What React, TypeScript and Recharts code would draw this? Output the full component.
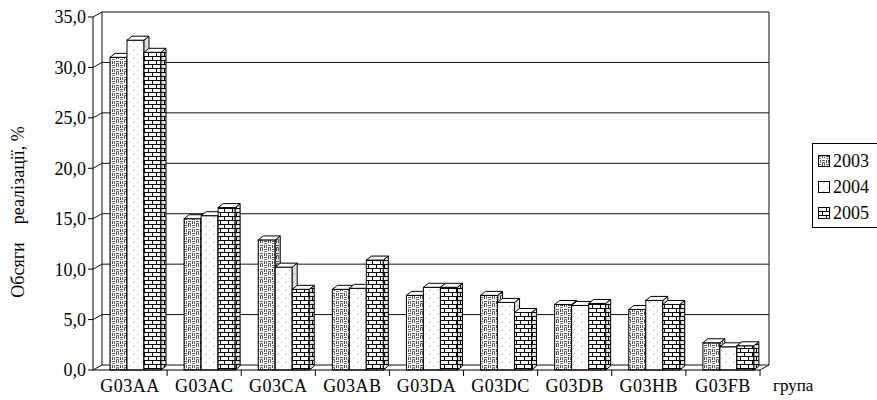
import React from "react";
import { BarChart, Bar, XAxis, YAxis, CartesianGrid } from "recharts";

const groups = ["G03AA", "G03AC", "G03CA", "G03AB", "G03DA", "G03DC", "G03DB", "G03HB", "G03FB"];
const v2003 = [31.0, 15.0, 12.9, 8.0, 7.4, 7.4, 6.5, 6.0, 2.7];
const v2004 = [32.7, 15.3, 10.2, 8.1, 8.2, 6.7, 6.4, 6.9, 2.3];
const v2005 = [31.5, 16.1, 8.0, 10.9, 8.2, 5.7, 6.6, 6.5, 2.4];
const years = ["2003", "2004", "2005"];
const yTicks = [0, 5, 10, 15, 20, 25, 30, 35];

const data = groups.map((g, i) => ({ group: g, y2003: v2003[i], y2004: v2004[i], y2005: v2005[i] }));

const W = 877;
const H = 400;
const LEFT = 93;
const TOP = 17;
const BOTTOM = 370;
const RIGHT = 760;
const BAND = (RIGHT - LEFT) / groups.length;
const FONT = "Liberation Serif";

// 3d depth of bars and of the walls
const DX = 5;
const DY = 4;
const SHIFT = 5;
const WDX = 9;
const WDY = 5;

function Patterns({ prefix }: { prefix: string }) {
  return (
    <defs>
      <pattern id={`${prefix}-2003`} width="8" height="8" patternUnits="userSpaceOnUse">
        <rect width="8" height="8" fill="#fff" />
        <rect x="0" y="1" width="3" height="1" fill="#555" />
        <rect x="0" y="3" width="3" height="1" fill="#777" />
        <rect x="4" y="0" width="1" height="3" fill="#444" />
        <rect x="6" y="0" width="1" height="3" fill="#666" />
        <rect x="0" y="5" width="1" height="3" fill="#444" />
        <rect x="2" y="5" width="1" height="3" fill="#666" />
        <rect x="4" y="5" width="3" height="1" fill="#555" />
        <rect x="4" y="7" width="3" height="1" fill="#777" />
      </pattern>
      <pattern id={`${prefix}-2004`} width="8" height="8" patternUnits="userSpaceOnUse">
        <rect width="8" height="8" fill="#fff" />
        <rect x="1" y="6" width="1" height="1" fill="#aaa" />
        <rect x="5" y="2" width="1" height="1" fill="#bbb" />
        <rect x="6" y="1" width="1" height="1" fill="#ccc" />
      </pattern>
      <pattern id={`${prefix}-2005`} width="8" height="8" patternUnits="userSpaceOnUse">
        <rect width="8" height="8" fill="#fff" />
        <rect x="0" y="0" width="8" height="1" fill="#000" />
        <rect x="0" y="4" width="8" height="1" fill="#000" />
        <rect x="0" y="0" width="1" height="4" fill="#000" />
        <rect x="4" y="4" width="1" height="4" fill="#000" />
      </pattern>
    </defs>
  );
}

function Bar3D(props: any) {
  const { x, y, width, height, fill } = props;
  if (height == null || height <= 0) return null;
  const x0 = x + SHIFT;
  const x1 = x0 + width;
  const yb = y + height;
  const side = `${x1},${y} ${x1 + DX},${y - DY} ${x1 + DX},${yb - DY} ${x1},${yb}`;
  return (
    <g>
      <rect x={x0} y={y} width={width} height={height} fill={fill} stroke="#000" strokeWidth={1} />
      <polygon points={side} fill={fill} stroke="#000" strokeWidth={1} />
      <polygon points={side} fill="rgba(0,0,0,0.12)" stroke="none" />
      <polygon
        points={`${x0},${y} ${x0 + DX},${y - DY} ${x1 + DX},${y - DY} ${x1},${y}`}
        fill="#fff"
        stroke="#000"
        strokeWidth={1}
      />
    </g>
  );
}

function GridLine(props: any) {
  const { x1, x2, y1 } = props;
  const yb = y1 - WDY;
  const isTop = Math.abs(y1 - TOP) < 1;
  const isBottom = Math.abs(y1 - BOTTOM) < 1;
  return (
    <g stroke="#111" strokeWidth={1} fill="none">
      <path d={`M${x1},${y1} L${x1 + WDX},${yb} L${x2 + WDX},${yb}`} />
      {isTop && (
        <>
          <line x1={x1 + WDX} y1={yb} x2={x1 + WDX} y2={BOTTOM - WDY} />
          <line x1={x2 + WDX} y1={yb} x2={x2 + WDX} y2={BOTTOM - WDY} />
        </>
      )}
      {isBottom && <line x1={x2} y1={y1} x2={x2 + WDX} y2={yb} />}
    </g>
  );
}

function XTick(props: any) {
  const { x, y, payload, index } = props;
  return (
    <g>
      <line x1={x + BAND / 2} y1={y} x2={x + BAND / 2} y2={y + 6} stroke="#000" />
      <text x={x} y={y + 22} textAnchor="middle" fontFamily={FONT} fontSize={18} letterSpacing={0.5} fill="#000">
        {payload.value}
      </text>
      {index === groups.length - 1 && (
        <text x={RIGHT + 13} y={y + 21} fontFamily={FONT} fontSize={17} fill="#000">
          група
        </text>
      )}
    </g>
  );
}

function YTitle() {
  return (
    <text
      x={0}
      y={0}
      transform="translate(24,212) rotate(-90)"
      textAnchor="middle"
      fontFamily={FONT}
      fontSize={18}
      fill="#000"
      style={{ whiteSpace: "pre", fontFamily: FONT }}
    >
      {"Обсяги    реалізації, %"}
    </text>
  );
}

function LegendBox() {
  return (
    <div
      style={{
        position: "absolute",
        left: 812,
        top: 143,
        width: 70,
        height: 85,
        border: "1px solid #000",
        boxSizing: "border-box",
        background: "#fff",
        fontFamily: FONT,
        fontSize: 18,
        paddingTop: 4,
      }}
    >
      {years.map((yr) => (
        <div key={yr} style={{ display: "flex", alignItems: "center", height: 26, paddingLeft: 5 }}>
          <svg width={13} height={13} style={{ marginRight: 2 }}>
            <Patterns prefix={`lg${yr}`} />
            <rect x={0.5} y={0.5} width={11} height={11} fill={`url(#lg${yr}-${yr})`} stroke="#000" />
          </svg>
          <span>{yr}</span>
        </div>
      ))}
    </div>
  );
}

export default function App() {
  return (
    <div style={{ position: "relative", width: W, height: H, background: "#fff", fontFamily: FONT }}>
      <style>{`body{margin:0;}`}</style>
      <BarChart
        width={W}
        height={H}
        data={data}
        margin={{ top: TOP, right: W - RIGHT, bottom: 0, left: 0 }}
        barGap={0}
        barSize={17}
      >
        <Patterns prefix="c" />
        <CartesianGrid vertical={false} horizontal={(p: any) => <GridLine key={p.key} {...p} />} />
        <XAxis
          dataKey="group"
          height={H - BOTTOM}
          tickSize={0}
          tickMargin={0}
          axisLine={{ stroke: "#000" }}
          tick={<XTick />}
          interval={0}
        />
        <YAxis
          width={LEFT}
          domain={[0, 35]}
          ticks={yTicks}
          interval={0}
          tickSize={5}
          tickLine={{ stroke: "#000" }}
          axisLine={{ stroke: "#000" }}
          tickFormatter={(v: number) => v.toFixed(1).replace(".", ",")}
          tick={{ fontFamily: FONT, fontSize: 18, fill: "#000" }}
          label={<YTitle />}
        />
        <Bar dataKey="y2003" name="2003" fill="url(#c-2003)" shape={<Bar3D />} isAnimationActive={false} />
        <Bar dataKey="y2004" name="2004" fill="url(#c-2004)" shape={<Bar3D />} isAnimationActive={false} />
        <Bar dataKey="y2005" name="2005" fill="url(#c-2005)" shape={<Bar3D />} isAnimationActive={false} />
      </BarChart>
      <LegendBox />
    </div>
  );
}
